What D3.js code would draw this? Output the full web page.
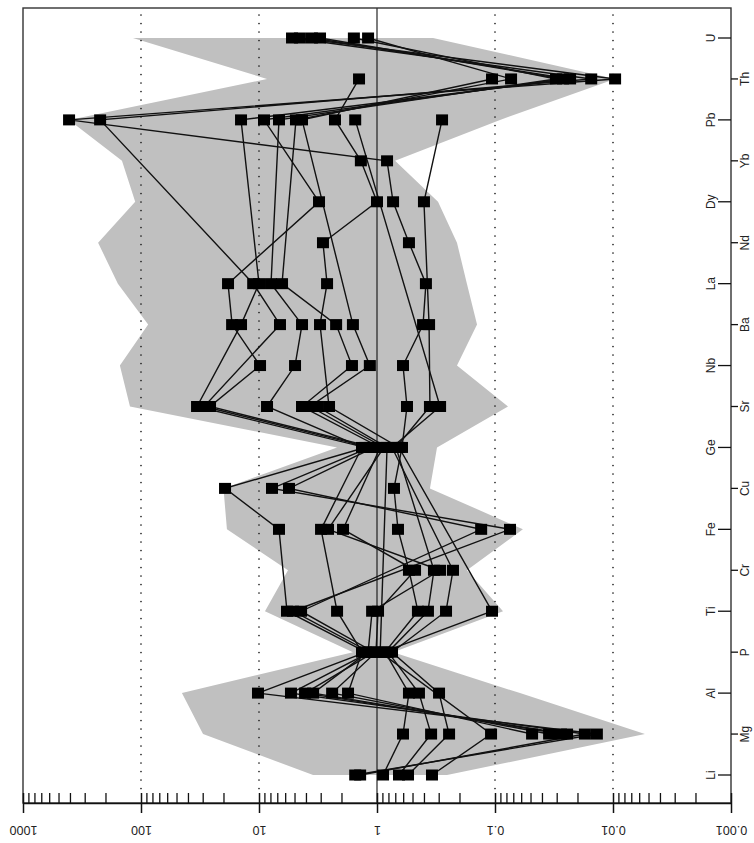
<!DOCTYPE html>
<html>
<head>
<meta charset="utf-8">
<script src="https://cdn.jsdelivr.net/npm/d3@7"></script>
<style>
  body { margin: 0; background: #fff; }
  svg { display: block; }
  text { font-family: "Liberation Sans", Arial, sans-serif; fill: #222; }
</style>
</head>
<body>
<svg id="chart" width="754" height="843"></svg>
<script>
// Elements along the (vertical) category axis, bottom to top
const elements = ["Li","Mg","Al","P","Ti","Cr","Fe","Cu","Ge","Sr","Nb","Ba","La","Nd","Dy","Yb","Pb","Th","U"];

// Logarithmic value axis ticks (left = enriched, right = depleted)
const tickValues = [1000, 100, 10, 1, 0.1, 0.01, 0.001];
const tickLabels = ["1000", "100", "10", "1", "0.1", "0.01", "0.001"];
const gridValues = [100, 10, 0.1, 0.01];

// Envelope of the reference field: maximum and minimum per element
const rangeMax = [3.48, 29.8, 45, 1.60, 8.9, 5.68, 18.7, 20, 2.18, 124, 151, 87, 157, 231, 112, 145, 407, 8.55, 117];
const rangeMin = [0.255, 0.00536, 0.0614, 0.731, 0.0855, 0.173, 0.058, 0.356, 0.310, 0.0776, 0.210, 0.142, 0.173, 0.210, 0.304, 0.703, 0.0907, 0.0096, 0.335];

// Normalised concentrations per sample (null = not determined)
//              Li     Mg      Al    P     Ti    Cr     Fe     Cu    Ge    Sr    Nb    Ba    La    Nd    Dy    Yb    Pb    Th      U
const sampleA = [1.53, 0.0137, 10.2, 1.24, 5.79, null, 6.77, 19.4, 1.26, 33.5, null, 14.2, 10.0, null, null, null, 14.2, 0.0231, 3.56];
const sampleB = [1.39, 0.0173, 5.36, 1.15, 5.15, null, 0.0746, 7.76, 1.15, 29.2, null, 6.64, 11.2, null, null, null, 222, 0.0153, 5.25];
const sampleC = [null, 0.0245, 4.07, 1.06, 4.40, null, 0.131, 5.57, 1.06, 26.0, 9.8, 16.9, 18.3, null, 3.10, null, 9.07, 0.0265, 3.04];
const sampleD = [0.889, 0.602, 0.536, 0.855, 0.450, 0.536, 0.664, 0.718, 0.614, 0.557, 0.602, 0.407, 0.385, 0.536, 0.731, 0.822, 407, 0.0096, 4.50];
const sampleE = [0.651, 0.348, 0.441, 0.807, 0.370, 0.329, null, null, 0.690, 0.356, null, 0.362, null, null, 0.400, null, 0.281, null, null];
const sampleF = [0.546, 0.245, 0.298, 0.746, 0.260, 0.227, null, null, 0.746, 0.292, null, null, null, null, null, null, 1.53, null, null];
const sampleG = [0.342, 0.108, null, 0.94, null, null, null, null, 0.822, 3.22, null, null, null, null, null, null, null, null, null];
const sampleH = [null, 0.0485, 1.76, 1.34, 2.18, null, 2.98, null, 1.34, 8.55, 4.95, 4.32, 7.91, null, null, null, 6.77, 0.0304, 1.57];
const sampleI = [null, 0.0348, 2.40, 1.02, 0.98, 0.476, 1.94, null, 0.94, 4.32, 1.63, 2.22, 6.38, null, null, null, 4.86, 0.0731, 1.19];
const sampleJ = [null, 0.0276, 3.48, 1.19, 1.10, 0.292, 2.60, null, 0.873, 3.70, 1.15, 1.60, null, null, null, null, 4.32, 0.106, null];
const sampleK = [null, null, null, 0.89, 0.106, null, null, null, 0.651, 2.55, null, 3.04, 2.65, 2.87, 1.00, 1.37, 2.27, 1.42, null];

const samples = [sampleA, sampleB, sampleC, sampleD, sampleE, sampleF, sampleG, sampleH, sampleI, sampleJ, sampleK];

const svg = d3.select("#chart");
const frameLeft = 23, frameRight = 731, frameTop = 8, frameBottom = 803;

const x = d3.scaleLog().domain([1000, 0.001]).range([frameLeft, frameRight]);
const y = d3.scalePoint().domain(elements).range([775, 38]);

// Reference field envelope
const envelope = elements.map((el, i) => ({ el, hi: rangeMax[i], lo: rangeMin[i] }));
svg.append("path")
  .datum(envelope)
  .attr("fill", "#c0c0c0")
  .attr("stroke", "none")
  .attr("d", d3.area()
    .y(d => y(d.el))
    .x0(d => x(d.hi))
    .x1(d => x(d.lo)));

// Dotted decade gridlines
svg.append("g").selectAll("line")
  .data(gridValues)
  .join("line")
  .attr("x1", d => x(d)).attr("x2", d => x(d))
  .attr("y1", 15).attr("y2", 796)
  .attr("stroke", "#111")
  .attr("stroke-width", 1.6)
  .attr("stroke-linecap", "round")
  .attr("stroke-dasharray", "0.1,8.4");

// Unity reference line
svg.append("line")
  .attr("x1", x(1)).attr("x2", x(1))
  .attr("y1", frameTop).attr("y2", frameBottom)
  .attr("stroke", "#111").attr("stroke-width", 1.1);

// Sample patterns: missing elements are skipped
const line = d3.line().x(d => x(d.v)).y(d => y(d.el));
const series = samples.map(s => elements.map((el, i) => ({ el, v: s[i] })).filter(d => d.v != null));

svg.append("g").selectAll("path")
  .data(series)
  .join("path")
  .attr("fill", "none")
  .attr("stroke", "#111")
  .attr("stroke-width", 1.4)
  .attr("d", line);

svg.append("g").selectAll("g")
  .data(series)
  .join("g")
  .selectAll("rect")
  .data(d => d)
  .join("rect")
  .attr("x", d => x(d.v) - 6)
  .attr("y", d => y(d.el) - 5.5)
  .attr("width", 12)
  .attr("height", 11)
  .attr("fill", "#000");

// Plot frame
svg.append("rect")
  .attr("x", frameLeft).attr("y", frameTop)
  .attr("width", frameRight - frameLeft).attr("height", frameBottom - frameTop)
  .attr("fill", "none")
  .attr("stroke", "#333")
  .attr("stroke-width", 1.4);

// Bottom log axis: major ticks with upside-down labels
const axisMajor = d3.axisBottom(x)
  .tickValues(tickValues)
  .tickFormat((d, i) => tickLabels[i])
  .tickSizeInner(10)
  .tickSizeOuter(0);
const gMajor = svg.append("g").attr("transform", `translate(0,${frameBottom})`).call(axisMajor);
gMajor.select(".domain").attr("stroke", "#111").attr("stroke-width", 1.5);
gMajor.selectAll(".tick line").attr("y1", -10).attr("stroke", "#111").attr("stroke-width", 1.5);
gMajor.selectAll(".tick text")
  .attr("y", 0).attr("dy", null)
  .attr("transform", "translate(0,27) rotate(180)")
  .attr("dominant-baseline", "central")
  .style("font-size", "12.5px")
  .attr("fill", "#222");

// Minor ticks inside the frame
const minorTicks = [];
for (let e = -3; e < 3; e++) for (let m = 2; m <= 9; m++) minorTicks.push(m * Math.pow(10, e));
const axisMinor = d3.axisBottom(x).tickValues(minorTicks).tickFormat("").tickSizeInner(-10).tickSizeOuter(0);
const gMinor = svg.append("g").attr("transform", `translate(0,${frameBottom})`).call(axisMinor);
gMinor.select(".domain").remove();
gMinor.selectAll(".tick line").attr("stroke", "#111").attr("stroke-width", 1.3);

// Right element axis with staggered labels
const gEl = svg.append("g");
gEl.selectAll("line")
  .data(elements)
  .join("line")
  .attr("x1", frameRight)
  .attr("x2", (d, i) => i % 2 === 0 ? frameRight - 13 : frameRight + 7)
  .attr("y1", d => y(d)).attr("y2", d => y(d))
  .attr("stroke", "#111").attr("stroke-width", 1.3);
gEl.selectAll("text")
  .data(elements)
  .join("text")
  .attr("transform", (d, i) => `translate(${i % 2 === 0 ? 711 : 745},${y(d)}) rotate(-90)`)
  .attr("text-anchor", "middle")
  .attr("dominant-baseline", "central")
  .style("font-size", "12px")
  .text(d => d);
</script>
</body>
</html>
